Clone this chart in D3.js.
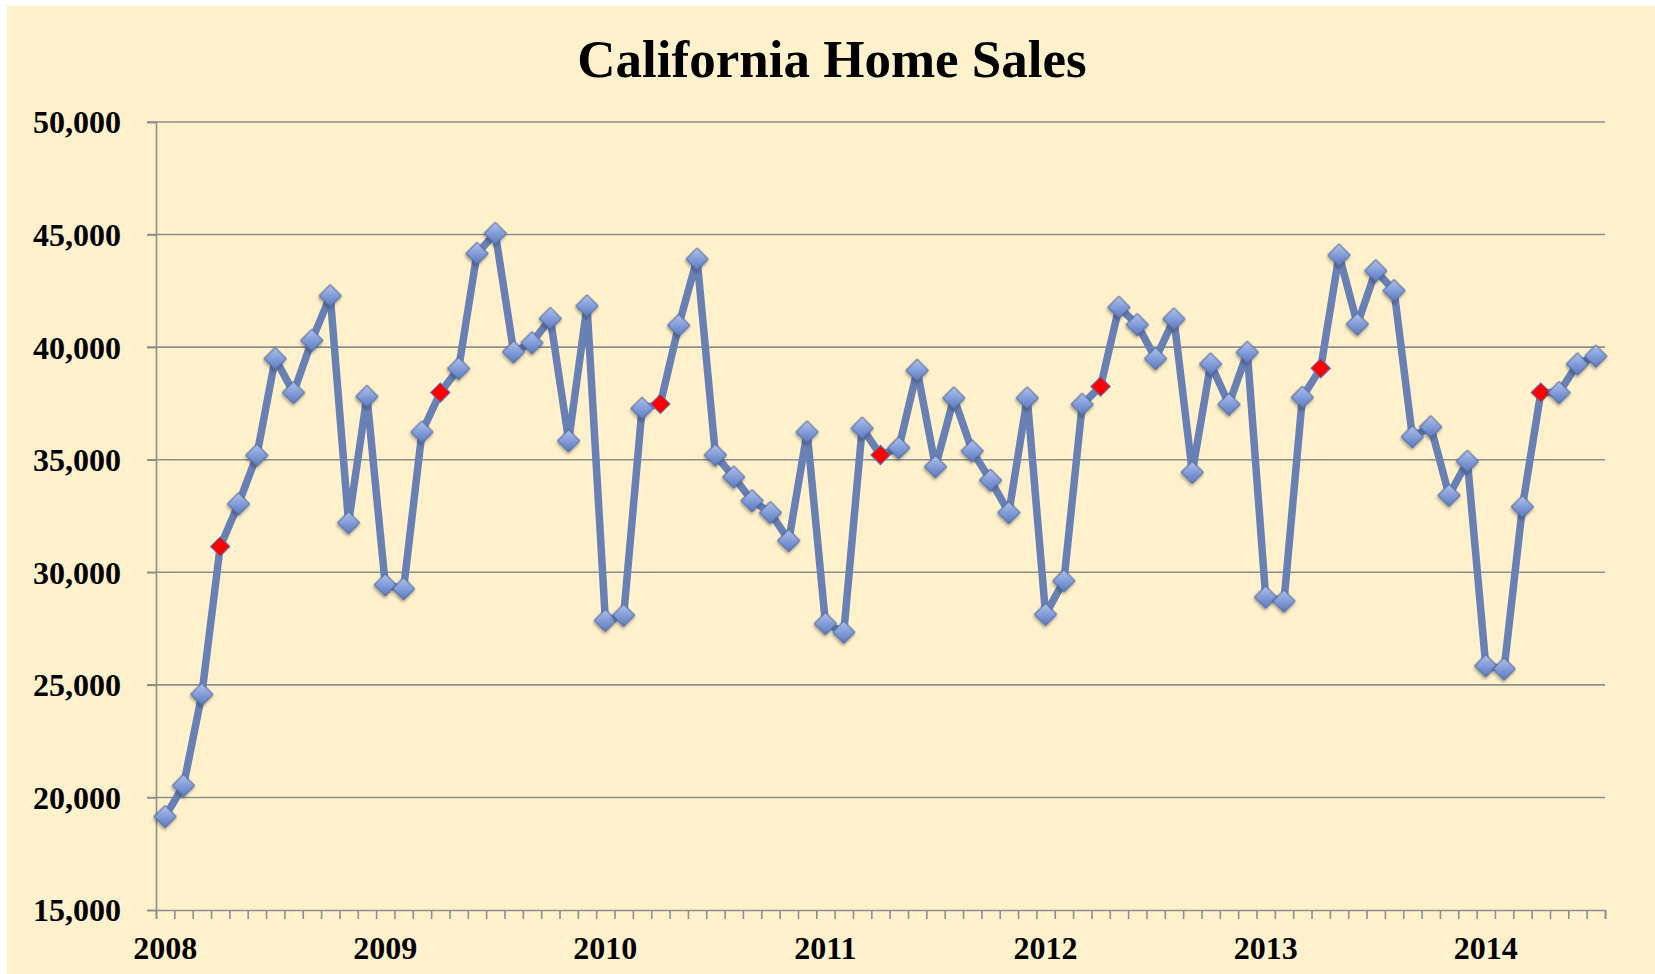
<!DOCTYPE html>
<html>
<head>
<meta charset="utf-8">
<script src="https://cdn.jsdelivr.net/npm/d3@7"></script>
<style>
  html, body { margin: 0; padding: 0; background: #ffffff; }
  svg { display: block; }
</style>
</head>
<body>
<svg id="chart" width="1655" height="974"></svg>
<script>
// ---- data ----
const title = "California Home Sales";
const months = d3.utcMonths(new Date(Date.UTC(2008, 0, 1)), new Date(Date.UTC(2014, 7, 1)));
const sales = [
  19150, 20530, 24580, 31140, 33040, 35200, 39490, 37980, 40300, 42280, 32200, 37810,
  29440, 29270, 36230, 37980, 39050, 44160, 45050, 39790, 40190, 41270, 35840, 41830,
  27860, 28090, 37280, 37480, 40970, 43910, 35210, 34230, 33180, 32650, 31410, 36230,
  27720, 27340, 36400, 35210, 35530, 38970, 34690, 37740, 35390, 34090, 32650, 37740,
  28130, 29620, 37460, 38250, 41770, 41000, 39490, 41250, 34440, 39250, 37460, 39770,
  28900, 28720, 37770, 39060, 44090, 41020, 43390, 42510, 36020, 36460, 33420, 34930,
  25850, 25710, 32910, 37980, 37980, 39250, 39600
];
const yTicks = [15000, 20000, 25000, 30000, 35000, 40000, 45000, 50000];
const yearLabels = ["2008", "2009", "2010", "2011", "2012", "2013", "2014"];
const highlightMonth = 3; // April shown in red

// ---- layout ----
const svg = d3.select("#chart");
const W = 1655, H = 974;
const plotL = 156, plotR = 1605, plotT = 122, plotB = 910;
const serif = "'Liberation Serif', 'Times New Roman', serif";

svg.append("rect").attr("x", 7).attr("y", 6).attr("width", W - 7).attr("height", H - 6)
  .attr("fill", "#FFF1CB");

const defs = svg.append("defs");
const grad = defs.append("linearGradient").attr("id", "dgrad")
  .attr("x1", "0").attr("y1", "0").attr("x2", "1").attr("y2", "1");
grad.append("stop").attr("offset", "0%").attr("stop-color", "#AFC2EE");
grad.append("stop").attr("offset", "55%").attr("stop-color", "#7F99D6");
grad.append("stop").attr("offset", "100%").attr("stop-color", "#5B78BC");
const shadow = defs.append("filter").attr("id", "shadow")
  .attr("x", "-50%").attr("y", "-50%").attr("width", "200%").attr("height", "200%");
shadow.append("feDropShadow").attr("dx", 1).attr("dy", 2).attr("stdDeviation", 1.6)
  .attr("flood-color", "#000").attr("flood-opacity", 0.35);

const x = d3.scaleBand().domain(d3.range(months.length)).range([plotL, plotR]).padding(0);
const xEdge = d3.scaleLinear().domain([0, months.length]).range([plotL, plotR]);
const y = d3.scaleLinear().domain([15000, 50000]).range([plotB, plotT]);
const cx = i => x(i) + x.bandwidth() / 2;

// title
svg.append("text").attr("x", 832).attr("y", 77).attr("text-anchor", "middle")
  .attr("font-family", serif).attr("font-weight", "bold").attr("font-size", 53)
  .attr("fill", "#000").text(title);

// gridlines
svg.append("g").selectAll("line").data(yTicks.slice(1)).join("line")
  .attr("x1", plotL - 9).attr("x2", plotR)
  .attr("y1", d => y(d)).attr("y2", d => y(d))
  .attr("stroke", "#8E8E8E").attr("stroke-width", 1.6);

// y axis
const yAxis = svg.append("g").attr("transform", `translate(${plotL},0)`)
  .call(d3.axisLeft(y).tickValues(yTicks).tickSize(9).tickPadding(26).tickFormat(d3.format(",")));
yAxis.select(".domain").attr("stroke", "#8E8E8E").attr("stroke-width", 1.6);
yAxis.selectAll(".tick line").attr("stroke", "#8E8E8E").attr("stroke-width", 1.6);
yAxis.selectAll(".tick text").attr("font-family", serif).attr("font-weight", "bold")
  .attr("font-size", 32).attr("fill", "#000").attr("dy", "0.34em");

// x axis
const xAxis = svg.append("g").attr("transform", `translate(0,${plotB})`)
  .call(d3.axisBottom(xEdge).tickValues(d3.range(months.length + 1)).tickSize(9).tickFormat(""));
xAxis.select(".domain").attr("stroke", "#8E8E8E").attr("stroke-width", 1.6);
xAxis.selectAll(".tick line").attr("stroke", "#8E8E8E").attr("stroke-width", 1.6);

// year labels at January bands
const janIdx = months.map((m, i) => [m, i]).filter(([m]) => m.getUTCMonth() === 0).map(([, i]) => i);
svg.append("g").selectAll("text").data(janIdx).join("text")
  .attr("x", d => cx(d)).attr("y", 959).attr("text-anchor", "middle")
  .attr("font-family", serif).attr("font-weight", "bold").attr("font-size", 32)
  .attr("fill", "#000").text((d, k) => yearLabels[k]);

// line
const line = d3.line().x((d, i) => cx(i)).y(d => y(d));
svg.append("path").datum(sales).attr("d", line)
  .attr("fill", "none").attr("stroke", "#6880B4").attr("stroke-width", 7.5)
  .attr("stroke-linejoin", "round");

// markers
const sym = d3.symbol().type(d3.symbolSquare);
const mk = svg.append("g");
sales.forEach((v, i) => {
  const red = months[i].getUTCMonth() === highlightMonth;
  mk.append("path")
    .attr("d", sym.size(red ? 190 : 250)())
    .attr("transform", `translate(${cx(i)},${y(v)}) rotate(45)`)
    .attr("fill", red ? "#FF0000" : "url(#dgrad)")
    .attr("stroke", red ? "#5B78BC" : "#4E6698")
    .attr("stroke-width", 1)
    .attr("filter", red ? null : "url(#shadow)");
});
</script>
</body>
</html>
